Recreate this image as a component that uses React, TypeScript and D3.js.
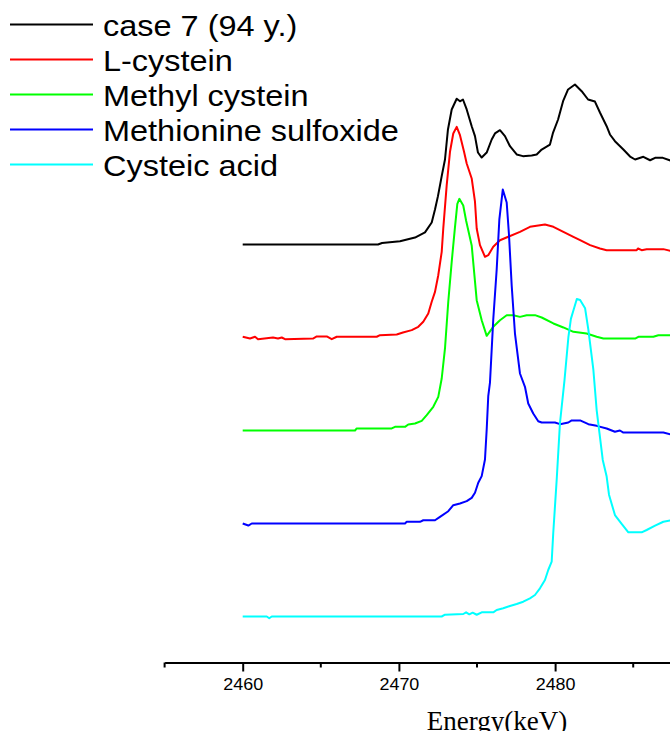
import React, { useEffect, useRef } from 'react';
import * as d3 from 'd3';

// series: [energy (keV), normalised absorbance]
const case7 = [
  [2460, 0], [2468.66, 0], [2468.92, 0.016], [2470.07, 0.035], [2471.03, 0.075],
  [2471.67, 0.13], [2472.1, 0.237], [2472.31, 0.376], [2472.5, 0.52], [2472.74, 0.735],
  [2472.95, 0.914], [2473.14, 1.237], [2473.38, 1.452], [2473.7, 1.567], [2473.91, 1.54],
  [2474.1, 1.559], [2474.34, 1.452], [2474.66, 1.272], [2474.87, 1.165], [2475.06, 0.989],
  [2475.3, 0.935], [2475.62, 0.989], [2475.94, 1.129], [2476.15, 1.194], [2476.47, 1.229],
  [2476.79, 1.165], [2477.11, 1.057], [2477.54, 0.968], [2477.94, 0.95], [2478.5, 0.957],
  [2478.82, 0.968], [2479.14, 1.021], [2479.67, 1.075], [2479.87, 1.204], [2480.19, 1.344],
  [2480.51, 1.541], [2480.83, 1.667], [2481.27, 1.72], [2481.7, 1.648], [2482.11, 1.559],
  [2482.55, 1.537], [2482.87, 1.419], [2483.3, 1.272], [2483.51, 1.183], [2483.83, 1.111],
  [2484.37, 1.022], [2484.8, 0.946], [2485.12, 0.914], [2485.65, 0.943], [2486.08, 0.906],
  [2486.4, 0.932], [2486.9, 0.932], [2487.5, 0.896],
];

const lCystein = [
  [2460, 0.008], [2460.47, -0.011], [2460.79, 0.008], [2460.98, -0.018], [2461.94, 0],
  [2462.26, -0.011], [2462.5, 0], [2462.71, -0.018], [2464.5, -0.011], [2464.74, 0.011],
  [2465.38, 0.011], [2465.7, -0.018], [2466.02, 0.008], [2468.58, 0.008], [2468.79, 0.025],
  [2469.86, 0.032], [2470.26, 0.054], [2470.82, 0.079], [2471.24, 0.115], [2471.56, 0.169],
  [2471.88, 0.258], [2472.1, 0.384], [2472.31, 0.491], [2472.52, 0.67], [2472.74, 0.921],
  [2472.84, 1.172], [2473.06, 1.638], [2473.27, 1.997], [2473.48, 2.194], [2473.7, 2.265],
  [2473.91, 2.175], [2474.17, 1.997], [2474.34, 1.871], [2474.66, 1.71], [2474.87, 1.46],
  [2474.98, 1.172], [2475.19, 0.993], [2475.51, 0.868], [2475.72, 0.885], [2476.04, 0.975],
  [2476.47, 1.046], [2477.0, 1.083], [2477.75, 1.136], [2478.39, 1.19], [2479.35, 1.215],
  [2479.89, 1.19], [2480.53, 1.136], [2481.17, 1.083], [2481.6, 1.046], [2482.24, 0.993],
  [2482.87, 0.957], [2483.3, 0.939], [2485.22, 0.939], [2485.31, 0.957], [2485.54, 0.939],
  [2485.86, 0.95], [2486.93, 0.95], [2487.5, 0.928],
];

const methylCystein = [
  [2460, 0], [2467.19, 0], [2467.3, 0.022], [2469.54, 0.022], [2469.75, 0.039],
  [2470.39, 0.039], [2470.6, 0.065], [2471.03, 0.075], [2471.46, 0.104], [2471.78, 0.165],
  [2472.2, 0.255], [2472.52, 0.362], [2472.74, 0.559], [2472.95, 0.882], [2473.16, 1.384],
  [2473.38, 1.814], [2473.59, 2.186], [2473.74, 2.437], [2473.87, 2.491], [2474.12, 2.419],
  [2474.3, 2.258], [2474.66, 1.99], [2474.98, 1.401], [2475.3, 1.186], [2475.62, 1.018],
  [2476.04, 1.115], [2476.47, 1.186], [2476.9, 1.24], [2477.32, 1.24], [2477.75, 1.222],
  [2478.18, 1.24], [2478.71, 1.24], [2479.14, 1.215], [2479.89, 1.151], [2480.53, 1.108],
  [2481.17, 1.061], [2482.02, 1.043], [2482.66, 1.008], [2483.09, 0.989], [2485.12, 0.989],
  [2485.33, 1.008], [2486.29, 1.008], [2486.61, 1.025], [2487.5, 1.025],
];

const methionineSulfoxide = [
  [2460, 0], [2460.36, -0.022], [2460.58, 0], [2470.39, 0], [2470.5, 0.018],
  [2471.35, 0.018], [2471.56, 0.035], [2472.31, 0.035], [2472.63, 0.072], [2473.16, 0.132],
  [2473.48, 0.197], [2473.91, 0.215], [2474.34, 0.24], [2474.66, 0.276], [2474.87, 0.33],
  [2475.08, 0.438], [2475.3, 0.509], [2475.51, 0.688], [2475.62, 1.011], [2475.72, 1.369],
  [2475.83, 1.516], [2476.04, 2.194], [2476.26, 2.731], [2476.43, 3.269], [2476.65, 3.591],
  [2476.9, 3.452], [2477.05, 3.097], [2477.22, 2.559], [2477.43, 2.043], [2477.75, 1.613],
  [2478.07, 1.47], [2478.28, 1.29], [2478.6, 1.183], [2478.92, 1.1], [2479.14, 1.086],
  [2479.99, 1.086], [2480.31, 1.068], [2480.85, 1.086], [2481.06, 1.108], [2481.6, 1.108],
  [2482.13, 1.068], [2482.66, 1.05], [2483.3, 1.022], [2483.83, 0.986], [2484.15, 1.0],
  [2484.37, 0.978], [2486.93, 0.978], [2487.5, 0.954],
];

const cysteicAcid = [
  [2460, 0], [2461.54, 0], [2461.7, -0.019], [2461.86, 0], [2472.74, 0],
  [2472.95, 0.019], [2474.12, 0.027], [2474.3, 0.045], [2474.51, 0.023], [2474.72, 0.041],
  [2474.98, 0.019], [2475.3, 0.045], [2476.04, 0.045], [2476.26, 0.07], [2476.68, 0.088],
  [2477.11, 0.113], [2477.54, 0.134], [2477.96, 0.159], [2478.39, 0.195], [2478.71, 0.231],
  [2479.03, 0.303], [2479.35, 0.392], [2479.56, 0.5], [2479.78, 0.589], [2479.88, 0.895],
  [2480.1, 1.468], [2480.31, 2.078], [2480.6, 2.54], [2480.85, 3.003], [2481.01, 3.2],
  [2481.17, 3.29], [2481.39, 3.414], [2481.6, 3.403], [2481.92, 3.314], [2482.13, 3.081],
  [2482.45, 2.651], [2482.66, 2.22], [2483.05, 1.683], [2483.3, 1.505], [2483.45, 1.31],
  [2483.83, 1.091], [2484.26, 0.995], [2484.69, 0.905], [2485.54, 0.905], [2485.86, 0.93],
  [2486.4, 0.976], [2486.93, 1.019], [2487.5, 1.038],
];

const seriesNames = ['case 7 (94 y.)', 'L-cystein', 'Methyl cystein', 'Methionine sulfoxide', 'Cysteic acid'];
const seriesData = [case7, lCystein, methylCystein, methionineSulfoxide, cysteicAcid];
const seriesOffsets = [4, 3, 2, 1, 0];
const seriesColors = ['#000000', '#ff0000', '#00ff00', '#0000ff', '#00ffff'];

const majorTicks = [2460, 2470, 2480];
const minorTicks = [2455, 2465, 2475, 2485];

const W = 670;
const H = 731;

export default function App() {
  const axisRef = useRef<SVGGElement>(null);

  const x = d3.scaleLinear().domain([2455, 2487.4]).range([164.6, 670.7]);
  const y = d3.scaleLinear().domain([0, 4]).range([616.5, 244.5]);
  const axisY = 662.5;

  useEffect(() => {
    if (!axisRef.current) return;
    const g = d3.select(axisRef.current);
    g.selectAll('*').remove();

    const axis = d3.axisBottom(x)
      .tickValues(majorTicks)
      .tickSize(9)
      .tickSizeOuter(0)
      .tickPadding(7)
      .tickFormat(d3.format('d'));
    g.call(axis);
    g.select('.domain').attr('stroke-width', 2).attr('stroke', '#000');
    g.selectAll('.tick line').attr('stroke-width', 2).attr('stroke', '#000');
    g.selectAll('.tick text')
      .attr('font-family', 'Liberation Sans, Arial, sans-serif')
      .attr('font-size', 16)
      .attr('fill', '#000')
      .attr('transform', 'scale(1.12,1)');

    g.selectAll('.minor')
      .data(minorTicks)
      .enter()
      .append('line')
      .attr('class', 'minor')
      .attr('x1', d => x(d))
      .attr('x2', d => x(d))
      .attr('y1', 0)
      .attr('y2', 5)
      .attr('stroke', '#000')
      .attr('stroke-width', 2);
  }, []);

  const line = d3.line<number[]>().x(d => x(d[0]));

  return (
    <svg width={W} height={H} style={{ position: 'absolute', left: 0, top: 0, background: '#fff' }}>
      <rect width={W} height={H} fill="#fff" />
      {seriesData.map((data, i) => (
        <path
          key={seriesNames[i]}
          d={line.y(d => y(d[1] + seriesOffsets[i]))(data) || ''}
          fill="none"
          stroke={seriesColors[i]}
          strokeWidth={2}
          strokeLinejoin="round"
        />
      ))}

      <g ref={axisRef} transform={`translate(0,${axisY})`} />

      <text x={497} y={729.5} textAnchor="middle" fontFamily="Liberation Serif, Times New Roman, serif" fontSize={27}>
        Energy(keV)
      </text>

      {seriesNames.map((name, i) => {
        const ly = 24.5 + i * 35;
        return (
          <g key={name}>
            <line x1={10} x2={93} y1={ly} y2={ly} stroke={seriesColors[i]} strokeWidth={2} />
            <text
              transform={`translate(103,${ly + 11.5}) scale(1.12,1)`}
              fontFamily="Liberation Sans, Arial, sans-serif"
              fontSize={29}
              fill="#000"
            >
              {name}
            </text>
          </g>
        );
      })}
    </svg>
  );
}
